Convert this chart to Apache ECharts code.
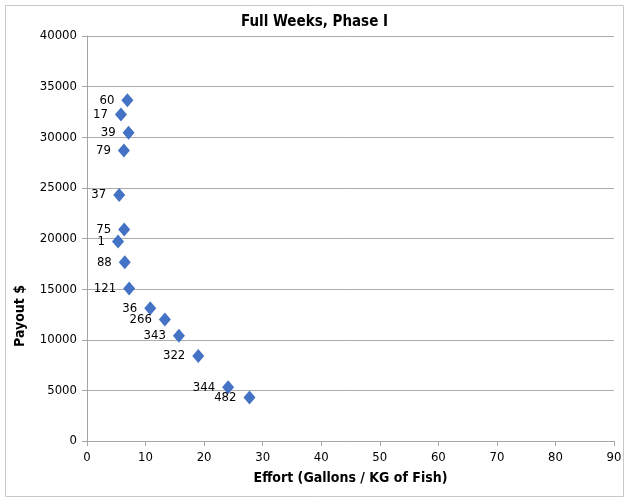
<!DOCTYPE html>
<html>
<head>
<meta charset="utf-8">
<script src="https://cdn.jsdelivr.net/npm/echarts@6/dist/echarts.min.js"></script>
<style>
  html, body { margin: 0; padding: 0; background: #fff; }
  #main { width: 629px; height: 498px; }
</style>
</head>
<body>
<div id="main"></div>
<script>
var myChart = echarts.init(document.getElementById('main'));

// point ids, effort (gallons / kg of fish), payout $
const ids = ['60', '17', '39', '79', '37', '75', '1', '88', '121', '36', '266', '343', '322', '344', '482'];
const effort = [6.9, 5.8, 7.1, 6.3, 5.5, 6.35, 5.3, 6.45, 7.2, 10.8, 13.3, 15.7, 19.0, 24.1, 27.75];
const payout = [33650, 32250, 30450, 28700, 24300, 20900, 19700, 17650, 15050, 13100, 12000, 10400, 8400, 5300, 4300];

const font = "'Liberation Sans Narrow', 'DejaVu Sans Condensed', Arial, sans-serif";

const points = ids.map((id, i) => ({
    name: id,
    value: [effort[i], payout[i]]
}));

option = {
    backgroundColor: '#fff',
    animation: false,
    title: {
        text: 'Full Weeks, Phase I',
        left: 'center',
        top: 10,
        textStyle: { fontFamily: font, fontSize: 15, fontWeight: 'bold', color: '#000' }
    },
    grid: { left: 87, right: 15, top: 36, bottom: 57 },
    xAxis: {
        type: 'value',
        min: 0, max: 90, interval: 10,
        name: 'Effort (Gallons / KG of Fish)',
        nameLocation: 'middle',
        nameGap: 30,
        nameTextStyle: { fontFamily: font, fontSize: 14, fontWeight: 'bold', color: '#000' },
        axisLine: { show: true, lineStyle: { color: '#a6a6a6' } },
        axisTick: { show: true, length: 5, lineStyle: { color: '#a6a6a6' } },
        axisLabel: { fontFamily: font, fontSize: 13, color: '#000', margin: 10 },
        splitLine: { show: false }
    },
    yAxis: {
        type: 'value',
        min: 0, max: 40000, interval: 5000,
        axisLine: { show: true, lineStyle: { color: '#a6a6a6' } },
        axisTick: { show: true, length: 5, lineStyle: { color: '#a6a6a6' } },
        axisLabel: { fontFamily: font, fontSize: 13, color: '#000', margin: 10, formatter: v => String(v) },
        splitLine: { show: true, lineStyle: { color: '#ababab', width: 1 } }
    },
    graphic: [
        {
            type: 'rect',
            shape: { x: 5.5, y: 5.5, width: 618, height: 491 },
            style: { fill: 'none', stroke: '#c8c8c8', lineWidth: 1 },
            z: -1
        },
        {
            type: 'text',
            x: 20, y: 316,
            rotation: Math.PI / 2,
            style: {
                text: 'Payout $',
                font: 'bold 14px ' + font,
                fill: '#000',
                textAlign: 'center',
                textVerticalAlign: 'middle'
            }
        }
    ],
    series: [{
        type: 'scatter',
        symbol: 'diamond',
        symbolSize: [12, 14],
        itemStyle: { color: '#4472c4', opacity: 1 },
        label: {
            show: true,
            position: 'left',
            distance: 7,
            formatter: '{b}',
            fontFamily: font,
            fontSize: 13,
            color: '#000'
        },
        data: points
    }]
};

myChart.setOption(option);
</script>
</body>
</html>
